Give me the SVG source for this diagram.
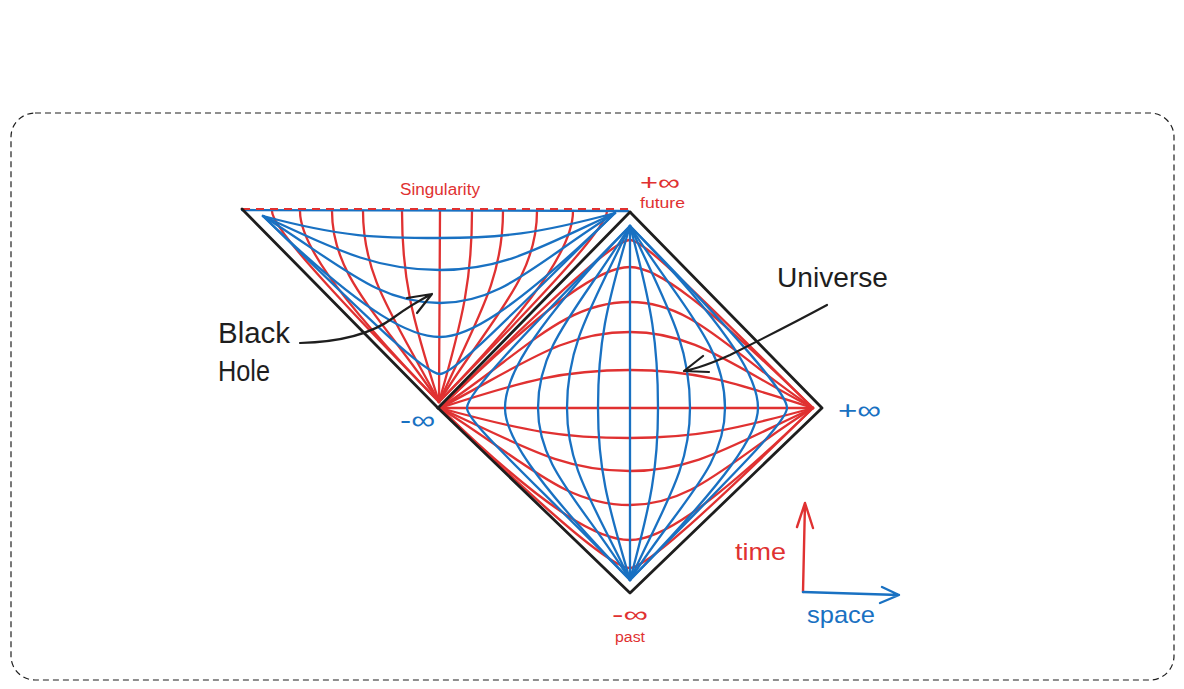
<svg xmlns="http://www.w3.org/2000/svg" width="1184" height="689" viewBox="0 0 1184 689">
<style>
.r{fill:none;stroke:#e03131;stroke-width:2.3;stroke-linecap:round;stroke-linejoin:round}
.b{fill:none;stroke:#1971c2;stroke-width:2.3;stroke-linecap:round;stroke-linejoin:round}
.k{fill:none;stroke:#1e1e1e;stroke-width:2.8;stroke-linecap:round;stroke-linejoin:round}
.a{fill:none;stroke:#1e1e1e;stroke-width:2.2;stroke-linecap:round;stroke-linejoin:round}
text{font-family:"Liberation Sans","DejaVu Sans",sans-serif}
.tr{fill:#e03131}.tb{fill:#1971c2}.tk{fill:#1e1e1e}
</style>
<rect id="frame" x="11" y="113" width="1163" height="567" rx="24" fill="none" stroke="#1e1e1e" stroke-width="1.2" stroke-dasharray="6 4"/>

<g id="black-hole">
<g id="bh-red">
<path class="r" d="M439 402 C411.2 316 402 277.9 402 211"/>
<path class="r" d="M439 402 C393.5 316 363 277.9 363 211"/>
<path class="r" d="M439 402 C381.3 316 332 277.9 332 211"/>
<path class="r" d="M439 402 C327.8 287.4 300 239.7 300 211"/>
<path class="r" d="M439 402 C323 283.6 272 226.3 272 211"/>
<path class="r" d="M439 402 L440 211"/>
<path class="r" d="M439 402 C463.6 316 472 277.9 472 211"/>
<path class="r" d="M439 402 C478.6 316 503 277.9 503 211"/>
<path class="r" d="M439 402 C492.5 316 537 277.9 537 211"/>
<path class="r" d="M439 402 C550.2 287.4 573 239.7 573 211"/>
<path class="r" d="M439 402 C555 283.6 607 226.3 607 211"/>
</g>
<g id="bh-blue">
<path class="b" d="M242 210 L628 211"/>
<path class="b" d="M263 216 C342.7 237.4 378 238 440 238 C501.3 238 536.3 234.1 615 213"/>
<path class="b" d="M263 216 C342.7 252.9 378 270 440 270 C501.3 270 536.3 249.5 615 213"/>
<path class="b" d="M263 216 C342.7 266.4 378 303 440 303 C501.3 303 536.3 262.8 615 213"/>
<path class="b" d="M263 216 C369.2 319 413.4 337 440 337 C466.3 337 510 314.9 615 213"/>
<path class="b" d="M263 216 C372.7 323.5 425.8 374 440 374 C454 374 506.5 319.3 615 213"/>
</g>
<path id="singularity" d="M242 209 L630 209" fill="none" stroke="#e03131" stroke-width="2" stroke-dasharray="8 6"/>
<path class="k" d="M242 209 L438 408"/>
<text class="tr" x="400" y="195" font-size="16" textLength="80" lengthAdjust="spacingAndGlyphs">Singularity</text>
</g>

<g id="universe">
<g id="u-red">
<path class="r" d="M440 408 L813 408"/>
<path class="r" d="M440 408 C525.5 380.3 563.5 370 630 370 C694 370 730.6 381.3 813 408"/>
<path class="r" d="M440 408 C525.5 362.9 563.5 332 630 332 C694 332 730.6 364.6 813 408"/>
<path class="r" d="M440 408 C525.5 351.2 563.5 302 630 302 C694 302 730.6 353.3 813 408"/>
<path class="r" d="M440 408 C554 297.4 601.5 267 630 267 C657.5 267 703.2 301.5 813 408"/>
<path class="r" d="M440 408 C557.8 292.6 614.8 240 630 240 C644.6 240 699.5 296.8 813 408"/>
<path class="r" d="M440 408 C525.5 431.5 563.5 438 630 438 C694 438 730.6 430.6 813 408"/>
<path class="r" d="M440 408 C525.5 447.5 563.5 471 630 471 C694 471 730.6 446 813 408"/>
<path class="r" d="M440 408 C525.5 461.4 563.5 505 630 505 C694 505 730.6 459.4 813 408"/>
<path class="r" d="M440 408 C554 518.6 601.5 540 630 540 C657.5 540 703.2 514.5 813 408"/>
<path class="r" d="M440 408 C557.8 523.4 614.8 568 630 568 C644.6 568 699.5 519.2 813 408"/>
</g>
<g id="u-blue">
<path class="b" d="M630 226 L630 580"/>
<path class="b" d="M630 226 C605.7 307.9 598 344.3 598 408 C598 468.2 607.1 502.6 630 580"/>
<path class="b" d="M630 226 C591 307.9 567 344.3 567 408 C567 468.2 593.2 502.6 630 580"/>
<path class="b" d="M630 226 C579.2 307.9 538 344.3 538 408 C538 468.2 582 502.6 630 580"/>
<path class="b" d="M630 226 C524.1 335.2 505 380.7 505 408 C505 433.8 529.9 476.8 630 580"/>
<path class="b" d="M630 226 C519.4 338.8 467 393.4 467 408 C467 421.8 525.5 473.4 630 580"/>
<path class="b" d="M630 226 C652.1 307.9 658 344.3 658 408 C658 468.2 650.9 502.6 630 580"/>
<path class="b" d="M630 226 C667.7 307.9 690 344.3 690 408 C690 468.2 665.6 502.6 630 580"/>
<path class="b" d="M630 226 C682 307.9 725 344.3 725 408 C725 468.2 679.1 502.6 630 580"/>
<path class="b" d="M630 226 C735.9 335.2 758 380.7 758 408 C758 433.8 730.1 476.8 630 580"/>
<path class="b" d="M630 226 C740.6 338.8 787 393.4 787 408 C787 421.8 734.5 473.4 630 580"/>
</g>
<path class="k" d="M438 408 L630 593 L822 408 L630 212"/>
<path class="k" d="M438 408 L630 212" stroke-width="3.6"/>
<text class="tr" x="640" y="190" font-size="22" textLength="40" lengthAdjust="spacingAndGlyphs">+∞</text>
<text class="tr" x="640" y="208" font-size="14" textLength="45" lengthAdjust="spacingAndGlyphs">future</text>
<text class="tb" x="400" y="429" font-size="26" textLength="35" lengthAdjust="spacingAndGlyphs">-∞</text>
<text class="tb" x="838" y="419" font-size="26" textLength="43" lengthAdjust="spacingAndGlyphs">+∞</text>
<text class="tr" x="612" y="622" font-size="22" textLength="36" lengthAdjust="spacingAndGlyphs">-∞</text>
<text class="tr" x="615" y="642" font-size="14" textLength="30" lengthAdjust="spacingAndGlyphs">past</text>
</g>

<g id="label-black-hole">
<text class="tk" x="218" y="343" font-size="30" textLength="72" lengthAdjust="spacingAndGlyphs">Black</text>
<text class="tk" x="218" y="381" font-size="30" textLength="52" lengthAdjust="spacingAndGlyphs">Hole</text>
</g>
<g id="label-universe">
<text class="tk" x="777" y="287" font-size="27" textLength="111" lengthAdjust="spacingAndGlyphs">Universe</text>
</g>

<g id="axes">
<path d="M803 592 L805 503 M797 527 L805 503 L813 528" fill="none" stroke="#e03131" stroke-width="2.4" stroke-linecap="round" stroke-linejoin="round"/>
<path d="M803 592 L899 595 M882 587 L899 595 L880 603" fill="none" stroke="#1971c2" stroke-width="2.4" stroke-linecap="round" stroke-linejoin="round"/>
<text class="tr" x="735" y="560" font-size="24" textLength="51" lengthAdjust="spacingAndGlyphs">time</text>
<text class="tb" x="807" y="623" font-size="24" textLength="68" lengthAdjust="spacingAndGlyphs">space</text>
</g>

<g id="connectors">
<path class="a" d="M300 343 C340 342 370 335 393 318 C408 307 420 300 432 294 M407 298 L432 294 L417 313"/>
<path class="a" d="M827 305 C790 325 760 340 730 355 C710 364 695 369 684 371 M703 356 L684 371 L709 372"/>
</g>
</svg>
